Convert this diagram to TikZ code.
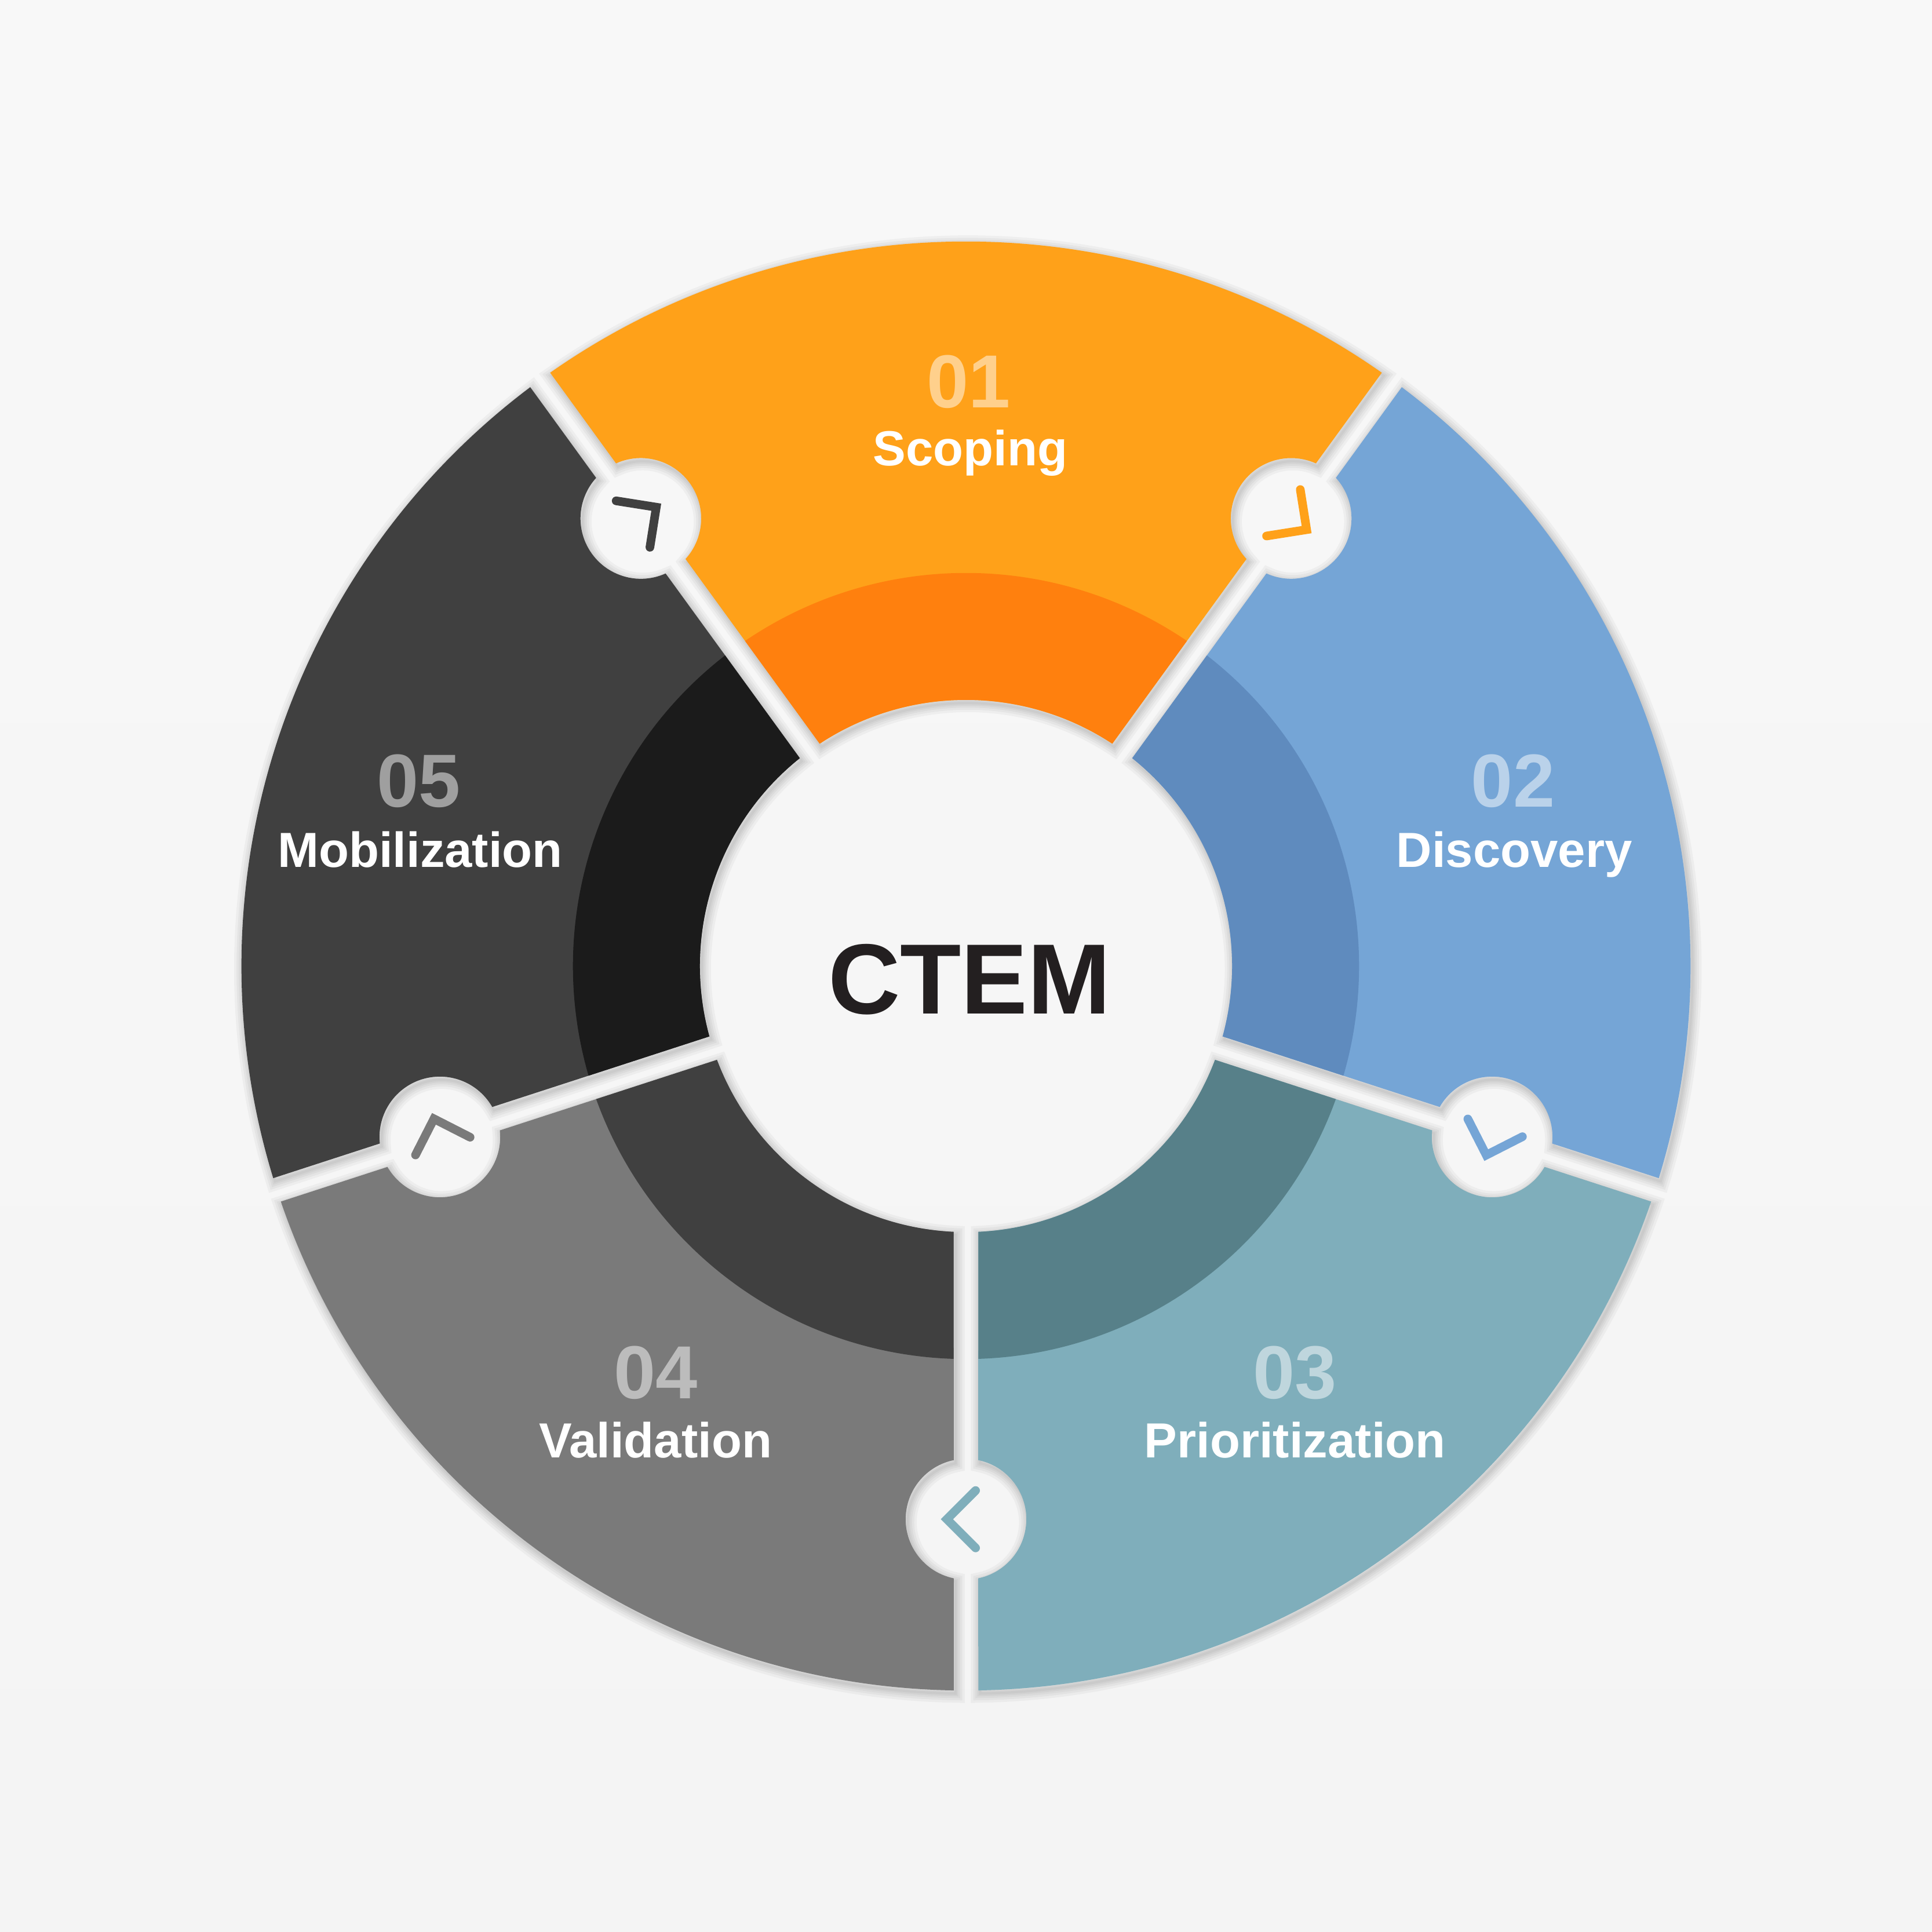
\documentclass[tikz,border=0pt]{standalone}
\usepackage{fontspec}
\setmainfont{Liberation Sans}
\definecolor{bgT}{HTML}{F8F8F8}
\definecolor{bgB}{HTML}{F4F4F4}
\definecolor{orOut}{HTML}{FFA119}
\definecolor{orIn}{HTML}{FF800E}
\definecolor{blOut}{HTML}{75A5D6}
\definecolor{blIn}{HTML}{5F8BBE}
\definecolor{tlOut}{HTML}{7FAEBB}
\definecolor{tlIn}{HTML}{578089}
\definecolor{gyOut}{HTML}{7A7A7A}
\definecolor{gyIn}{HTML}{404040}
\definecolor{dkOut}{HTML}{404040}
\definecolor{dkIn}{HTML}{1B1B1B}
\definecolor{ctemC}{HTML}{231F20}
% one ring segment (local frame: from 0 to 72 degrees), with half holes cut at both gaps
\newcommand\SegShape[1]{\path[#1] (0.9745:588pt) arc[start angle=0.9745, end angle=71.0255, radius=588pt]
  -- (70.8473:497.07pt) arc[start angle=60.224, end angle=-96.224, radius=49pt]
  -- (69.3466:216pt) arc[start angle=69.3466, end angle=2.6534, radius=216pt]
  -- (1.4284:401.15pt) arc[start angle=168.224, end angle=11.776, radius=49pt]
  -- cycle;}
\newcommand\InBand[1]{\path[#1] (1.7963:319pt) arc[start angle=1.7963, end angle=70.2037, radius=319pt]
  -- (69.3466:216pt) arc[start angle=69.3466, end angle=2.6534, radius=216pt] -- cycle;}
\begin{document}
\begin{tikzpicture}[x=1pt,y=1pt,
  num/.style={text=white, text opacity=0.5, font=\fontsize{61}{61}\selectfont\bfseries, anchor=base, inner sep=0pt},
  lab/.style={text=white, font=\fontsize{40}{40}\selectfont\bfseries, anchor=base, inner sep=0pt},
  chev/.style={line width=7pt, line cap=round, line join=miter}]
\useasboundingbox (-784,-784) rectangle (784,784);
\shade[top color=bgT, bottom color=bgB] (-784,-784) rectangle (784,784);
% soft shadows
\foreach \a in {54,-18,-90,198,126}{
  \begin{scope}[shift={(1.5,-2.5)}, rotate=\a]
    \foreach \w in {15,11,7.5,4.5,2}{\SegShape{draw=black, line width=\w pt, opacity=0.035}}
  \end{scope}}
% segments
\foreach \a/\co/\ci in {54/orOut/orIn, -18/blOut/blIn, -90/tlOut/tlIn, 198/gyOut/gyIn, 126/dkOut/dkIn}{
  \begin{scope}[rotate=\a]
    \SegShape{fill=\co}
    \InBand{fill=\ci}
  \end{scope}}
% chevrons in the holes
\foreach \p/\c in {54/orOut, -18/blOut, -90/tlOut, 198/gyOut, 126/dkOut}{
  \begin{scope}[shift={(\p:449)}, rotate=\p-90]
    \draw[chev, draw=\c] (-7.8,23.3) -- (15.5,0) -- (-7.8,-23.3);
  \end{scope}}
% texts
\node[num] (n1) at (2,453) {01};
\node[lab] (l1) at (3.6,406) {Scoping};
\node[num] (n2) at (444,129) {02};
\node[lab] (l2) at (445,80) {Discovery};
\node[num] (n3) at (267,-351) {03};
\node[lab] (l3) at (267,-399) {Prioritization};
\node[num] (n4) at (-252,-351) {04};
\node[lab] (l4) at (-252,-399) {Validation};
\node[num] (n5) at (-444,129) {05};
\node[lab] (l5) at (-443,80) {Mobilization};
\node[anchor=base, inner sep=0pt, text=ctemC, font=\fontsize{81}{81}\selectfont\bfseries] (ctem) at (3,-39) {CTEM};
\end{tikzpicture}
\end{document}
